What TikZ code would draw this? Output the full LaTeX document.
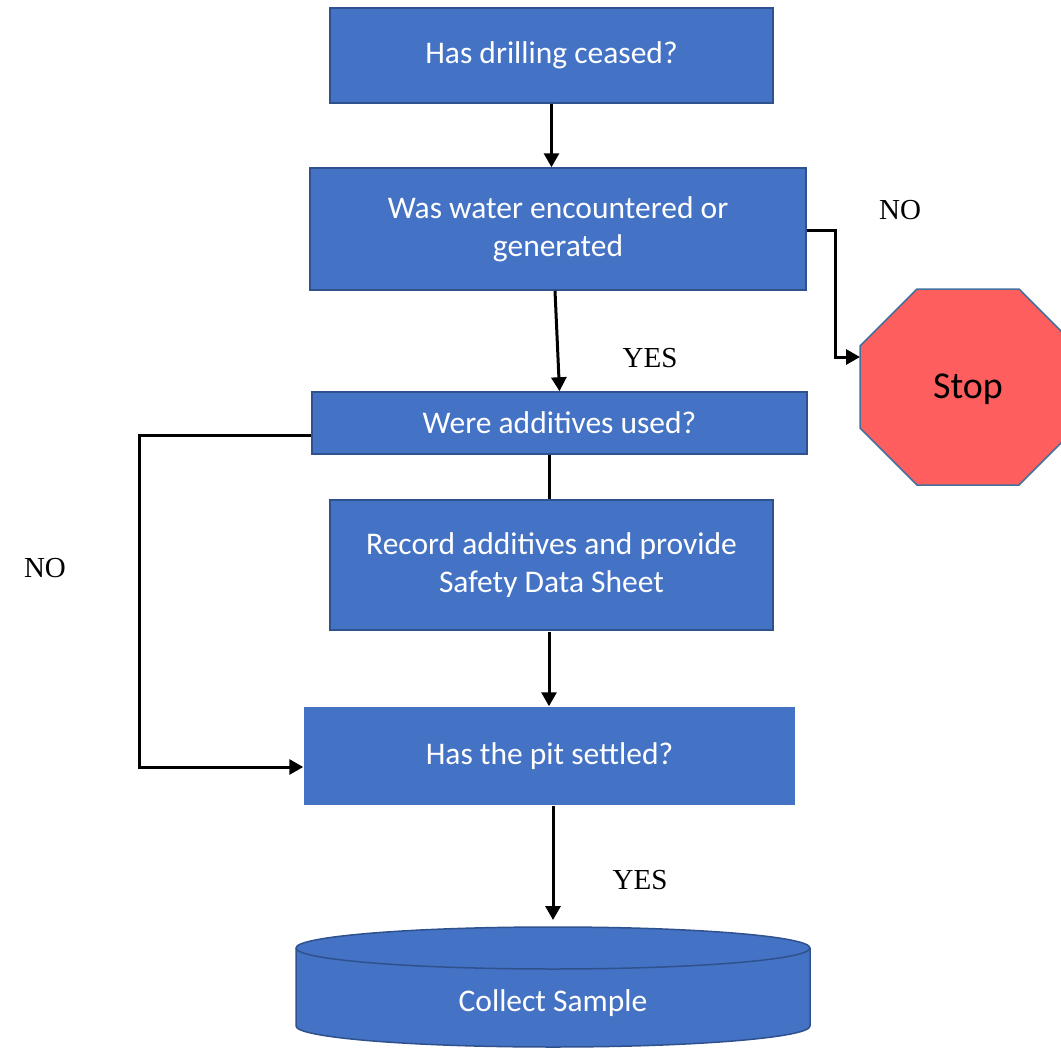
\documentclass[tikz,border=0pt]{standalone}
\usepackage{fontspec}
\setmainfont{Liberation Serif}
\newfontfamily\boxfont{Carlito}
\usetikzlibrary{arrows.meta}
\definecolor{boxblue}{HTML}{4472C4}
\definecolor{edgeblue}{HTML}{2F528F}
\definecolor{stopred}{HTML}{FF5E5E}
\definecolor{stopedge}{HTML}{41719C}

\begin{document}
\begin{tikzpicture}[x=1pt,y=-1pt,
    stepbox/.style={draw=edgeblue,line width=1.5pt,fill=boxblue,text=white,align=center,
      font=\boxfont\fontsize{31.5pt}{38pt}\selectfont,inner sep=0pt},
    answer/.style={font=\fontsize{29pt}{34pt}\selectfont},
    arr/.style={line width=3pt,-{Triangle[length=14pt,width=15pt]}},
    plain/.style={line width=3pt}]
      \useasboundingbox (0,0) rectangle (1061,1049);
      % question boxes
      \path (551.5,55.5) node[stepbox,minimum width=443pt,minimum height=95pt] (ceased) {Has drilling ceased?};
      \path (558,229) node[stepbox,minimum width=496pt,minimum height=122pt] (water) {Was water encountered or\\generated};
      \path (559.5,423) node[stepbox,minimum width=495pt,minimum height=62pt] (additives) {Were additives used?};
      \path (551.5,565) node[stepbox,minimum width=443pt,minimum height=130pt] (record) {Record additives and provide\\Safety Data Sheet};
      \path (549.5,756) node[stepbox,draw=none,minimum width=491pt,minimum height=98pt] (pit) {Has the pit settled?};
      % stop sign
      \filldraw[fill=stopred,draw=stopedge,line width=1.5pt]
        (917,289) -- (1019,289) -- (1076,346) -- (1076,428) -- (1019,485)
        -- (917,485) -- (860,428) -- (860,346) -- cycle;
      \path (968,389) node[font=\boxfont\fontsize{38pt}{44pt}\selectfont] (stop) {Stop};
      \coordinate (stopin) at (860,357);
      % sample cylinder
      \filldraw[fill=boxblue,draw=edgeblue,line width=1.5pt]
        (296,948) -- (296,1026) arc[start angle=180,end angle=0,x radius=257,y radius=21]
        -- (810,948) arc[start angle=0,end angle=-180,x radius=257,y radius=21] -- cycle;
      \draw[edgeblue,line width=1.5pt] (296,948) arc[start angle=180,end angle=0,x radius=257,y radius=21];
      \path (553,1003) node[text=white,font=\boxfont\fontsize{31.5pt}{38pt}\selectfont] (sample) {Collect Sample};
      \coordinate (sampletop) at (553,920);
      % connectors
      \draw[arr] (ceased.south) -- (ceased.south |- water.north);
      \draw[arr] (water.south) ++(-3,0) -- (additives.north);
      \draw[plain] (additives.south -| 549,0) -- (record.north -| 549,0);
      \draw[arr] (record.south) ++(-2.5,1) -- (pit.north -| 549,0);
      \draw[arr] (pit.south -| sampletop) -- (sampletop);
      \draw[arr] ([yshift=-1pt]water.east) -- ++(29,0) |- (stopin);
      \draw[arr] ([yshift=-12pt]additives.west) -- ++(-172,0) |- ([yshift=-11pt]pit.west);
      % labels
      \path (900,210) node[answer] (no1) {NO};
      \path (650,358) node[answer] (yes1) {YES};
      \path (45,568) node[answer] (no2) {NO};
      \path (640,880) node[answer] (yes2) {YES};
\end{tikzpicture}
\end{document}
